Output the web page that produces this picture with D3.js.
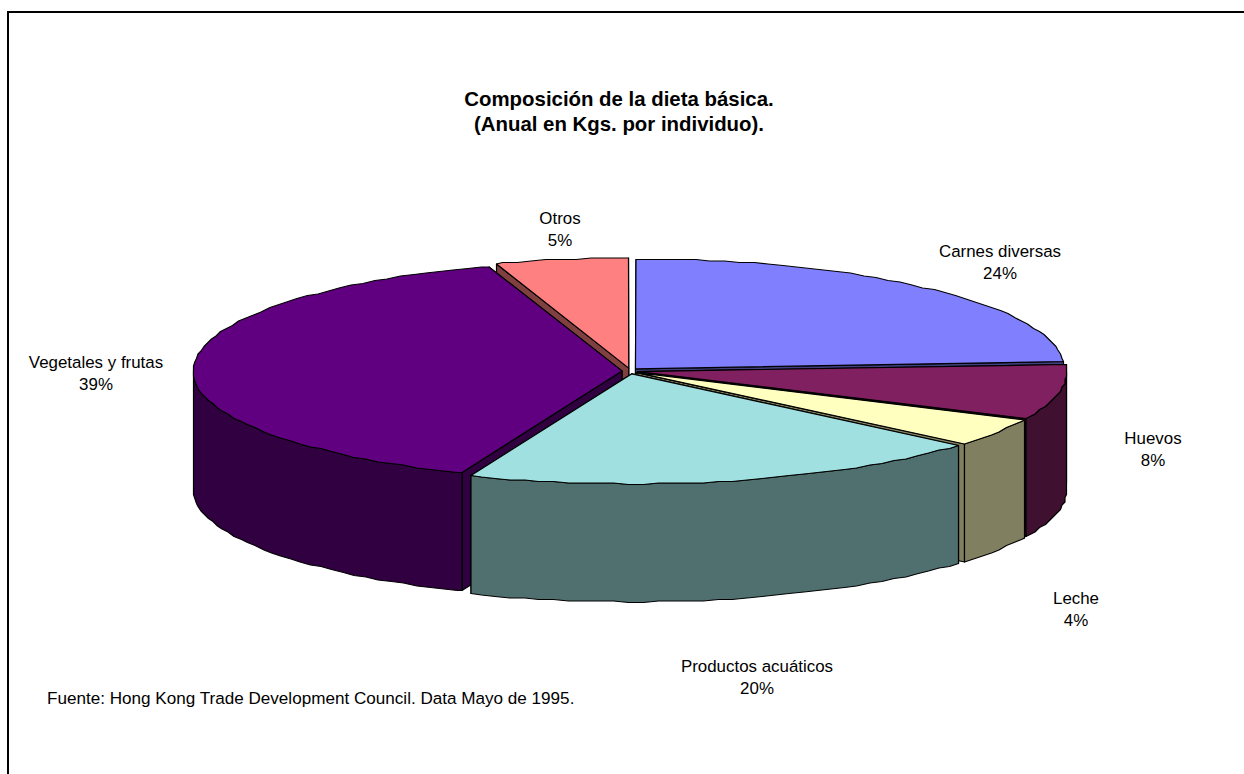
<!DOCTYPE html>
<html>
<head>
<meta charset="utf-8">
<title>Composición de la dieta básica</title>
<script src="https://cdn.jsdelivr.net/npm/d3@7"></script>
<style>
    html, body { margin: 0; padding: 0; background: #fff; }
    svg { display: block; }
    text { font-family: "Liberation Sans", Arial, sans-serif; fill: #000; }
</style>
</head>
<body>
<div id="dataviz"></div>
<script>
// data
const categories = ["Carnes diversas", "Huevos", "Leche", "Productos acuáticos", "Vegetales y frutas", "Otros"];
const percents = [24, 8, 4.2, 19.9, 38.9, 5];
const titleLines = ["Composición de la dieta básica.", "(Anual en Kgs. por individuo)."];
const source = "Fuente: Hong Kong Trade Development Council. Data Mayo de 1995.";

// colours, one for each category
const topColors = ["#8080ff", "#802060", "#ffffc0", "#a0e0e0", "#600080", "#ff8080"];
const sideColors = ["#404080", "#401030", "#808060", "#507070", "#300040", "#804040"];

// label centres, same order as categories
const labelX = [1000, 1153, 1076, 757, 96, 560];
const labelY = [251, 438, 598, 666, 362, 218];

// back to front, so the nearer slices cover the cut faces of the others
const drawOrder = [5, 0, 4, 1, 2, 3];

const width = 1244;
const height = 774;
const cx = 630, cy = 371;
const rx = 429, ry = 110;
const depth = 118;
const explodeX = 8, explodeY = 2.9;
const step = 0.035;

const formatPercent = d3.format(".0f");

const svg = d3.select("#dataviz")
    .append("svg")
    .attr("width", width)
    .attr("height", height);

// frame, open at the right and the bottom
svg.append("path")
    .attr("d", `M8,${height}V12H${width}`)
    .attr("fill", "none")
    .attr("stroke", "#000")
    .attr("stroke-width", 2);

const pie = d3.pie().sort(null).value(d => d).startAngle(0).endAngle(2 * Math.PI);
const arcs = pie(percents);

// unit circle -> flattened ellipse
const x = d3.scaleLinear([-1, 1], [-rx, rx]);
const y = d3.scaleLinear([-1, 1], [-ry, ry]);
const line = d3.line();

// the original outline is faceted, so snap it to a coarse grid
const snap = v => Math.round(v / 1.5) * 1.5;
const rim = (a, o, dz = 0) => [snap(o.x + x(Math.sin(a))), snap(o.y + y(-Math.cos(a))) + dz];

// fixed angle grid, so top and wall of a slice share their vertices
function rimPoints(a0, a1, o, dz = 0) {
    const inner = d3.range(Math.ceil(a0 / step + 0.01), a1 / step).map(k => k * step);
    return [a0, ...inner, a1].map(a => rim(a, o, dz));
}

const g = svg.append("g");

function poly(points, fill) {
    g.append("path")
        .attr("d", line(points) + "Z")
        .attr("fill", fill)
        .attr("stroke", "#000")
        .attr("stroke-width", 1.2)
        .attr("stroke-linejoin", "round");
}

for (const i of drawOrder) {
    const d = arcs[i];
    const mid = (d.startAngle + d.endAngle) / 2;
    const o = { x: cx + explodeX * Math.sin(mid), y: cy - explodeY * Math.cos(mid) };

    // the two cut faces, the farther one first
    const faces = [d.startAngle, d.endAngle].sort((a, b) => rim(a, o)[1] - rim(b, o)[1]);
    for (const a of faces) {
        const p = rim(a, o);
        poly([[o.x, o.y], p, [p[0], p[1] + depth], [o.x, o.y + depth]], sideColors[i]);
    }

    // outer wall, only the part facing us
    const a0 = Math.max(d.startAngle, Math.PI / 2);
    const a1 = Math.min(d.endAngle, 3 * Math.PI / 2);
    if (a1 > a0) {
        poly([...rimPoints(a0, a1, o), ...rimPoints(a0, a1, o, depth).reverse()], sideColors[i]);
    }

    // top
    poly([[o.x, o.y], ...rimPoints(d.startAngle, d.endAngle, o)], topColors[i]);
}

// title
svg.append("g").selectAll("text")
    .data(titleLines)
    .join("text")
    .attr("x", 619)
    .attr("y", (d, i) => 106 + i * 25)
    .attr("text-anchor", "middle")
    .attr("font-size", "20.4px")
    .attr("font-weight", "bold")
    .text(d => d);

// slice labels
const label = svg.append("g").selectAll("text")
    .data(arcs)
    .join("text")
    .attr("text-anchor", "middle")
    .attr("font-size", "16.9px");

label.append("tspan")
    .attr("x", d => labelX[d.index])
    .attr("y", d => labelY[d.index] + 6)
    .text(d => categories[d.index]);

label.append("tspan")
    .attr("x", d => labelX[d.index])
    .attr("dy", 21.5)
    .text(d => `${formatPercent(d.value)}%`);

// source note
svg.append("text")
    .attr("x", 47)
    .attr("y", 704)
    .attr("font-size", "17.1px")
    .text(source);
</script>
</body>
</html>
